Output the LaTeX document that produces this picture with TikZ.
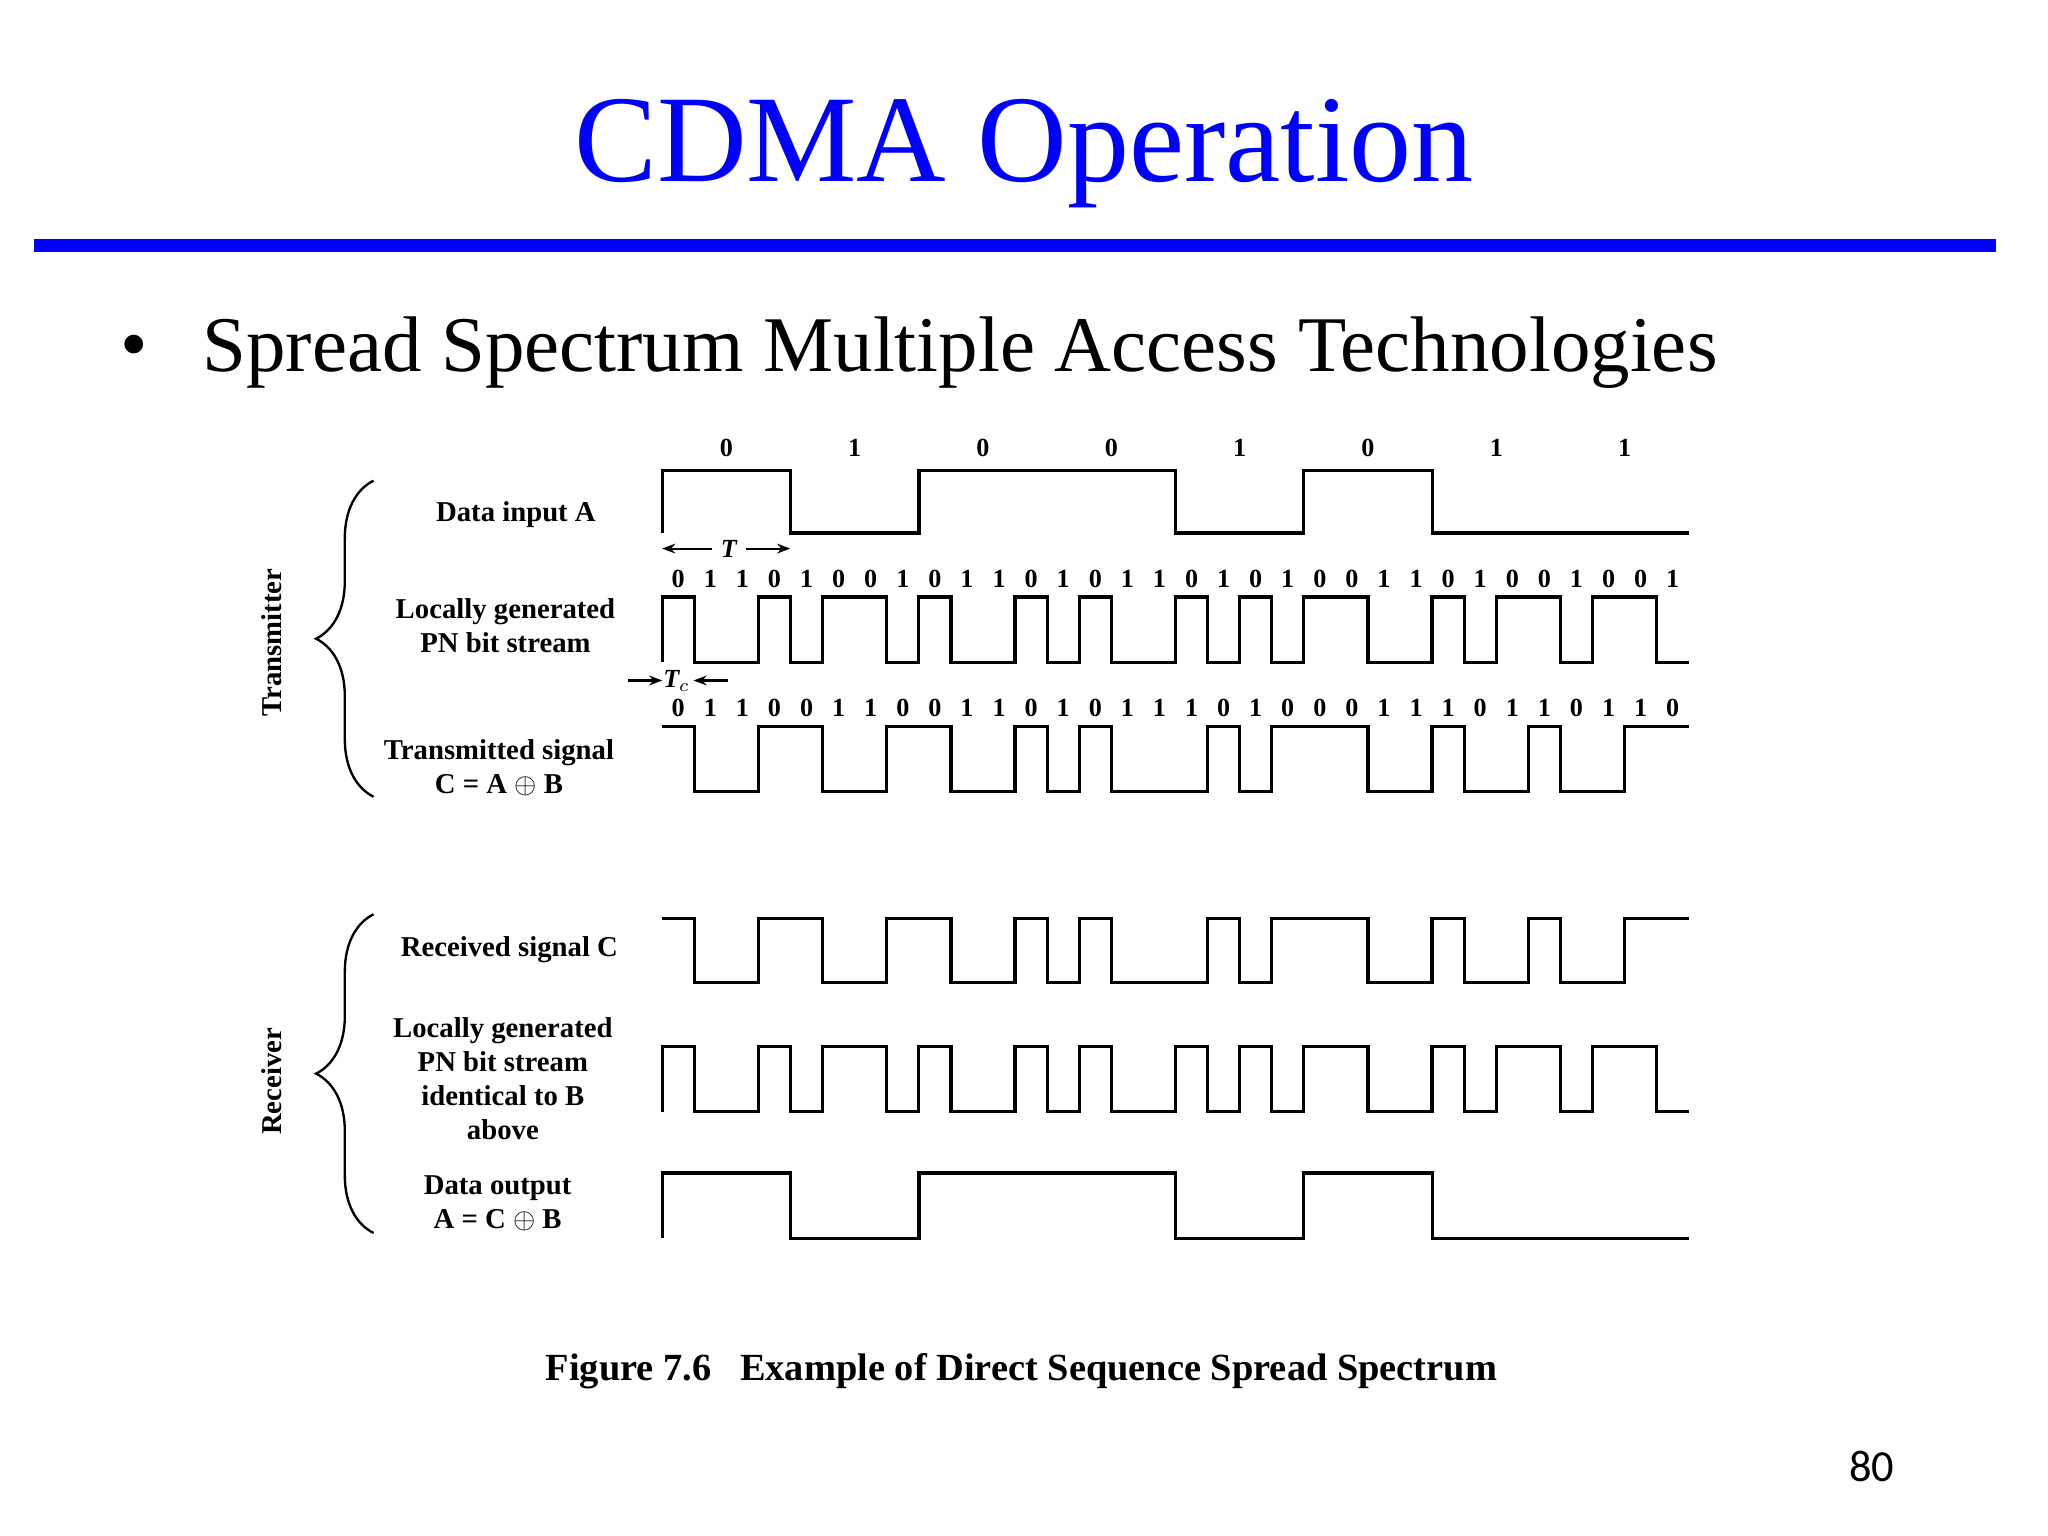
\documentclass[tikz,border=0pt]{standalone}
\usepackage{fontspec}
\setmainfont{Liberation Serif}
\newfontfamily\carl{Carlito}
\usetikzlibrary{decorations.pathreplacing,arrows.meta}
\newcommand\mywave[6]{%
 \gdef\wp{}%
 \foreach \b [count=\i from 0] in {#5}{%
   \pgfmathsetmacro\yy{ifthenelse(\b==0,#3,#4)}%
   \pgfmathsetmacro\xa{#1+\i*#2}%
   \pgfmathsetmacro\xb{#1+(\i+1)*#2}%
   \xdef\wp{\wp -- (\xa,\yy) -- (\xb,\yy)}%
 }%
 \draw[wave] (#1,#6) \wp;%
}
\begin{document}
\begin{tikzpicture}[x=0.5pt,y=-0.5pt,
  wave/.style={line width=1.25pt,line join=miter},
  lab/.style={font=\fontsize{11}{13}\selectfont\bfseries,align=center},
  bit/.style={font=\fontsize{10}{12}\selectfont\bfseries},
  br/.style={decorate,decoration={brace,amplitude=22pt},line width=0.9pt}]
\useasboundingbox (0,0) rectangle (1568,1176);
\fill[white] (0,0) rectangle (1568,1176);
\node[text=blue,font=\fontsize{47.5}{56}\selectfont] (title) at (784,118) {CDMA Operation};
\fill[blue] (26,183) rectangle (1528,193);
\node[font=\fontsize{30}{34}\selectfont] (bul) at (103,270) {•};
\node[anchor=west,font=\fontsize{30.2}{34}\selectfont] (sub) at (148,270) {Spread Spectrum Multiple Access Technologies};
% bit labels
\foreach \b [count=\i from 0] in {0,1,0,0,1,0,1,1}
  \node[bit] at (507+\i*98.25+49.1,343) {\b};
\foreach \b [count=\i from 0] in {0,1,1,0,1,0,0,1,0,1,1,0,1,0,1,1,0,1,0,1,0,0,1,1,0,1,0,0,1,0,0,1}
  \node[bit] at (507+\i*24.56+12.3,443) {\b};
\foreach \b [count=\i from 0] in {0,1,1,0,0,1,1,0,0,1,1,0,1,0,1,1,1,0,1,0,0,0,1,1,1,0,1,1,0,1,1,0}
  \node[bit] at (507+\i*24.56+12.3,542) {\b};
% waves
\mywave{507}{98.25}{360}{408}{0,1,0,0,1,0,1,1}{408}
\mywave{507}{24.56}{457}{507}{0,1,1,0,1,0,0,1,0,1,1,0,1,0,1,1,0,1,0,1,0,0,1,1,0,1,0,0,1,0,0,1}{507}
\mywave{507}{24.56}{556}{606}{0,1,1,0,0,1,1,0,0,1,1,0,1,0,1,1,1,0,1,0,0,0,1,1,0,1,1,0,1,1,0,0}{556}
\mywave{507}{24.56}{703}{752}{0,1,1,0,0,1,1,0,0,1,1,0,1,0,1,1,1,0,1,0,0,0,1,1,0,1,1,0,1,1,0,0}{703}
\mywave{507}{24.56}{801}{851}{0,1,1,0,1,0,0,1,0,1,1,0,1,0,1,1,0,1,0,1,0,0,1,1,0,1,0,0,1,0,0,1}{851}
\mywave{507}{98.25}{898}{948}{0,1,0,0,1,0,1,1}{948}
% T and Tc
\node[font=\fontsize{10}{12}\selectfont\bfseries\itshape] (T) at (558,420) {T};
\draw[-{Stealth[length=5pt]},line width=0.8pt] (T.west) -- (507,420);
\draw[-{Stealth[length=5pt]},line width=0.8pt] (T.east) -- (605,420);
\node[font=\fontsize{10}{12}\selectfont\bfseries\itshape] (Tc) at (518,521) {T$_c$};
\coordinate (tl) at (481,521); \coordinate (tr) at (557,521);
\draw[-{Stealth[length=5pt]},line width=0.8pt] (tl) -- (507,521);
\draw[-{Stealth[length=5pt]},line width=0.8pt] (tr) -- (531,521);
% labels
\node[lab] (l1) at (395,394) {Data input A};
\node[lab] (l2) at (387,479) {Locally generated\\PN bit stream};
\node[lab] (l3) at (382,588) {Transmitted signal\\C = A $\oplus$ B};
\node[lab] (l4) at (390,727) {Received signal C};
\node[lab] (l5) at (385,826) {Locally generated\\PN bit stream\\identical to B\\above};
\node[lab] (l6) at (381,921) {Data output\\A = C $\oplus$ B};
\draw[br] (286,610) -- (286,368);
\draw[br] (286,944) -- (286,700);
\node[lab,rotate=90] (tx) at (208,492) {Transmitter};
\node[lab,rotate=90] (rx) at (208,828) {Receiver};
\node[font=\fontsize{14.7}{17}\selectfont\bfseries] (cap) at (782,1050) {Figure 7.6\ \ \ Example of Direct Sequence Spread Spectrum};
\node[font=\carl\fontsize{17}{20}\selectfont] (pg) at (1433,1123) {80};
\end{tikzpicture}
\end{document}
